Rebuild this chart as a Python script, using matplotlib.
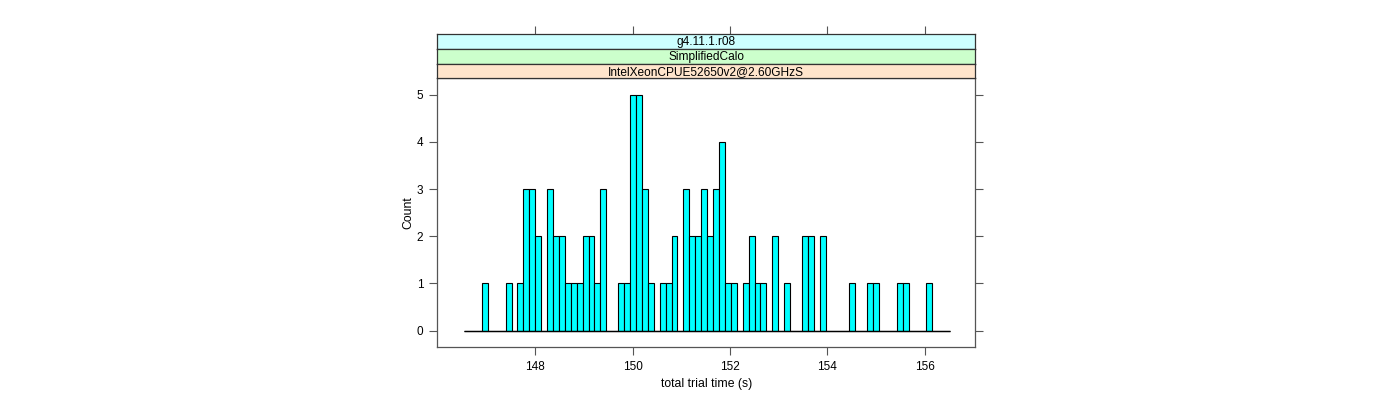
import numpy as np
import matplotlib
matplotlib.use("Agg")
import matplotlib.pyplot as plt

plt.rcParams['font.family'] = ['Liberation Sans', 'DejaVu Sans']

# ---- data ----
break_start = 146.54
break_end = 156.52
counts = [0, 0, 0, 1, 0, 0, 0, 1, 0, 1,
          3, 3, 2, 0, 3, 2, 2, 1, 1, 1,
          2, 2, 1, 3, 0, 0, 1, 1, 5, 5,
          3, 1, 0, 1, 1, 2, 0, 3, 2, 2,
          3, 2, 3, 4, 1, 1, 0, 1, 2, 1,
          1, 0, 2, 0, 1, 0, 0, 2, 2, 0,
          2, 0, 0, 0, 0, 1, 0, 0, 1, 1,
          0, 0, 0, 1, 1, 0, 0, 0, 1, 0,
          0, 0]
x_ticks = [148, 150, 152, 154, 156]
y_ticks = [0, 1, 2, 3, 4, 5]
strip_labels = ["g4.11.1.r08", "SimplifiedCalo", "IntelXeonCPUE52650v2@2.60GHzS"]
strip_colors = ["#CCFFFF", "#CCFFCC", "#FFE5CC"]
xlabel = "total trial time (s)"
ylabel = "Count"

edges = np.linspace(break_start, break_end, len(counts) + 1)

W, H = 1400, 400
fig = plt.figure(figsize=(W / 100, H / 100), dpi=100)

left, right = 437.3, 975.0
ptop, pbot = 78.3, 347.0
ax = fig.add_axes([left / W, 1 - pbot / H, (right - left) / W, (pbot - ptop) / H])

ax.hist(edges[:-1], bins=edges, weights=counts, facecolor="#00FFFF",
        edgecolor="black", linewidth=0.8, histtype="bar", rwidth=1.0)
ax.hlines(0, edges[0], edges[-1], color="black", linewidth=1.0)

ax.set_xlim(145.99, 157.03)
ax.set_ylim(-0.35, 5.35)
ax.set_xticks(x_ticks)
ax.set_yticks(y_ticks)
ax.tick_params(axis="both", direction="out", length=6, width=0.8, pad=4,
               colors="#555555", labelcolor="black", labelsize=8.5)
ax.tick_params(axis="y", right=True, labelright=False)
for s in ax.spines.values():
    s.set_color("#555555")
    s.set_linewidth(0.9)
ax.set_xlabel(xlabel, fontsize=8.8, labelpad=4)
ax.set_ylabel(ylabel, fontsize=8.8, labelpad=2)

# strips
strip_top = 34.0
sh = (ptop - strip_top) / 3
for i, (lab, col) in enumerate(zip(strip_labels, strip_colors)):
    y0 = strip_top + i * sh
    sax = fig.add_axes([left / W, 1 - (y0 + sh) / H, (right - left) / W, sh / H])
    sax.set_facecolor(col)
    sax.set_xlim(ax.get_xlim())
    sax.set_ylim(0, 1)
    sax.text(0.5, 0.45, lab, transform=sax.transAxes, ha="center", va="center",
             fontsize=8.6)
    for s in sax.spines.values():
        s.set_color("#333333")
        s.set_linewidth(0.9)
    sax.set_yticks([])
    if i == 0:
        sax.set_xticks(x_ticks)
        sax.tick_params(axis="x", top=True, bottom=False, labeltop=False,
                        labelbottom=False, direction="out", length=6,
                        width=0.8, colors="#555555")
    else:
        sax.set_xticks([])

fig.savefig("out.png", dpi=100)
